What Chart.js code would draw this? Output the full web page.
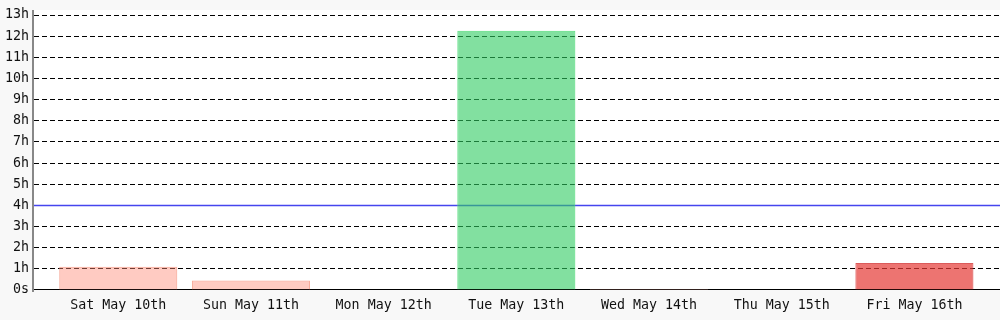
<!DOCTYPE html>
<html>
<head>
<meta charset="utf-8">
<script src="https://cdn.jsdelivr.net/npm/chart.js@4"></script>
<style>
  html, body { margin: 0; padding: 0; background: #f8f8f8; }
  #wrap { width: 1000px; height: 320px; }
</style>
</head>
<body>
<div id="wrap"><canvas id="hoursChart" width="1000" height="320"></canvas></div>
<script>
const days = ['Sat May 10th', 'Sun May 11th', 'Mon May 12th', 'Tue May 13th',
              'Wed May 14th', 'Thu May 15th', 'Fri May 16th'];
const hours = [1.1, 0.45, 0, 12.25, 0.05, 0, 1.28];
const fills = ['rgba(255,140,120,0.45)', 'rgba(255,140,120,0.45)', 'rgba(255,140,120,0.45)',
               'rgba(46,204,96,0.6)', 'rgb(216,144,127)', 'rgba(255,140,120,0.45)',
               'rgba(229,57,53,0.7)'];
const borders = ['rgba(245,150,130,0.8)', 'rgba(245,150,130,0.8)', 'rgba(245,150,130,0.8)',
                 'rgba(80,220,120,0.9)', 'rgb(216,144,127)', 'rgba(245,150,130,0.8)',
                 'rgba(210,50,50,0.8)'];
const yTicks = [0, 1, 2, 3, 4, 5, 6, 7, 8, 9, 10, 11, 12, 13];
const goalHours = 4;

const mono = { family: '"DejaVu Sans Mono", monospace', size: 13.3 };

// white plot background, goal line and base line under the bars
const plotDecor = {
  id: 'plotDecor',
  beforeDraw(chart) {
    const { ctx, chartArea: a } = chart;
    ctx.save();
    ctx.fillStyle = '#ffffff';
    ctx.fillRect(a.left, a.top - 5, a.right - a.left, a.bottom - a.top + 5);
    ctx.restore();
  },
  beforeDatasetsDraw(chart) {
    const { ctx, chartArea: a, scales } = chart;
    const y = Math.round(scales.y.getPixelForValue(goalHours)) + 0.5;
    ctx.save();
    ctx.strokeStyle = '#4646ee';
    ctx.lineWidth = 1.6;
    ctx.beginPath();
    ctx.moveTo(a.left, y);
    ctx.lineTo(a.right, y);
    ctx.stroke();
    ctx.strokeStyle = '#000';
    ctx.lineWidth = 1;
    ctx.beginPath();
    ctx.moveTo(a.left, a.bottom - 0.5);
    ctx.lineTo(a.right, a.bottom - 0.5);
    ctx.stroke();
    ctx.restore();
  },
  afterDraw(chart) {
    const { ctx, chartArea: a } = chart;
    ctx.save();
    ctx.strokeStyle = '#888';
    ctx.lineWidth = 2;
    ctx.beginPath();
    ctx.moveTo(a.left - 1, a.top - 5);
    ctx.lineTo(a.left - 1, a.bottom + 2);
    ctx.stroke();
    ctx.restore();
  }
};

new Chart(document.getElementById('hoursChart'), {
  type: 'bar',
  data: {
    datasets: [{
      data: hours.map((h, i) => ({ x: i, y: h })),
      backgroundColor: fills,
      borderColor: borders,
      borderWidth: 1,
      categoryPercentage: 1,
      barPercentage: 0.89
    }]
  },
  options: {
    responsive: false,
    animation: false,
    layout: { padding: { top: 15, right: 0, left: 0, bottom: 0 } },
    plugins: { legend: { display: false }, tooltip: { enabled: false } },
    scales: {
      x: {
        type: 'linear',
        offset: false,
        min: -0.635,
        max: 6.645,
        afterBuildTicks: s => { s.ticks = days.map((_, i) => ({ value: i })); },
        afterFit: s => { s.height = 30; },
        grid: { display: false, drawTicks: false },
        border: { display: false },
        ticks: {
          font: mono, color: '#111', padding: 8, maxRotation: 0, autoSkip: false,
          callback: v => days[v]
        }
      },
      y: {
        min: 0,
        max: 13,
        afterBuildTicks: s => { s.ticks = yTicks.map(v => ({ value: v })); },
        afterFit: s => { s.width = 34; },
        grid: {
          color: c => c.tick && (c.tick.value === 0 || c.tick.value === goalHours) ? 'rgba(0,0,0,0)' : '#000',
          drawTicks: false
        },
        border: { display: false, dash: [5, 3] },
        ticks: {
          font: mono, color: '#111', padding: 5,
          callback: v => v === 0 ? '0s' : v + 'h'
        }
      }
    }
  },
  plugins: [plotDecor]
});
</script>
</body>
</html>
